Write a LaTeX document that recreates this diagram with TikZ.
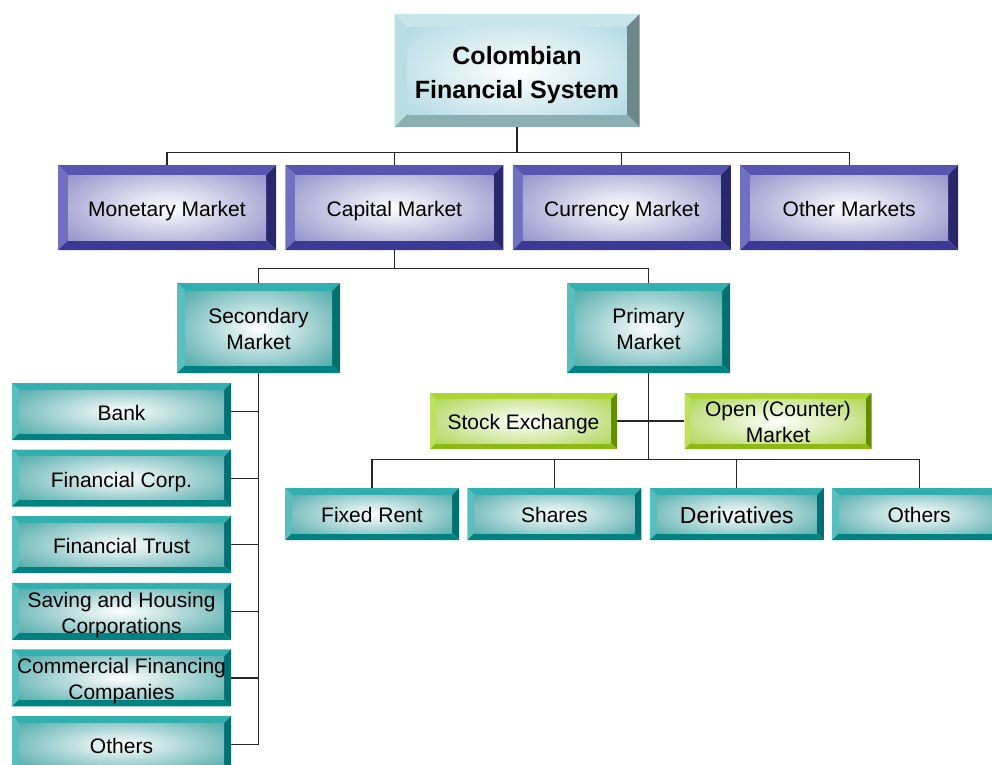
\documentclass[tikz,border=0pt]{standalone}
\usepackage{fontspec}
\setmainfont{Liberation Sans}
\usetikzlibrary{positioning,calc}
\definecolor{ttlL}{RGB}{185,222,225}
\definecolor{ttlT}{RGB}{200,230,234}
\definecolor{ttlR}{RGB}{110,135,138}
\definecolor{ttlB}{RGB}{140,175,178}
\definecolor{ttlF}{RGB}{165,212,222}
\definecolor{purL}{RGB}{112,112,192}
\definecolor{purT}{RGB}{86,86,176}
\definecolor{purR}{RGB}{40,40,110}
\definecolor{purB}{RGB}{58,58,150}
\definecolor{purF}{RGB}{130,130,195}
\definecolor{tealL}{RGB}{90,190,190}
\definecolor{tealT}{RGB}{50,175,175}
\definecolor{tealR}{RGB}{0,112,112}
\definecolor{tealB}{RGB}{0,130,130}
\definecolor{tealF}{RGB}{60,160,160}
\definecolor{grnL}{RGB}{190,225,90}
\definecolor{grnT}{RGB}{170,215,50}
\definecolor{grnR}{RGB}{100,140,0}
\definecolor{grnB}{RGB}{140,185,20}
\definecolor{grnF}{RGB}{165,210,70}
\tikzset{%
bevel/.style n args={6}{draw=none,inner sep=0pt,align=center,
  text height=18.9pt,text depth=1pt,
  path picture={
    \coordinate (bl) at (path picture bounding box.south west);
    \coordinate (tr) at (path picture bounding box.north east);
    \coordinate (tl) at (path picture bounding box.north west);
    \coordinate (br) at (path picture bounding box.south east);
    \fill[#2] (tl) -- (bl) -- ([shift={(#1,#1)}]bl) -- ([shift={(#1,-#1)}]tl) -- cycle;
    \fill[#3] (tl) -- (tr) -- ([shift={(-#1,-#1)}]tr) -- ([shift={(#1,-#1)}]tl) -- cycle;
    \fill[#4] (tr) -- (br) -- ([shift={(-#1,#1)}]br) -- ([shift={(-#1,-#1)}]tr) -- cycle;
    \fill[#5] (bl) -- (br) -- ([shift={(-#1,#1)}]br) -- ([shift={(#1,#1)}]bl) -- cycle;
    \begin{scope}
      \clip ([shift={(#1,#1)}]bl) rectangle ([shift={(-#1,-#1)}]tr);
      \shade[inner color=white,outer color=#6] ($(bl)!-0.2!(tr)$) rectangle ($(tr)!-0.2!(bl)$);
    \end{scope}
  }},
twoline/.style={text height=44.9pt,text depth=1pt},
titlebox/.style={bevel={13pt}{ttlL}{ttlT}{ttlR}{ttlB}{ttlF},minimum width=245pt,minimum height=113pt,
  text height=56.5pt,text depth=1.25pt,font=\bfseries\fontsize{25}{34}\selectfont},
mktbox/.style={bevel={10pt}{purL}{purT}{purR}{purB}{purF},minimum width=218pt,minimum height=85pt,font=\fontsize{21}{26}\selectfont},
subbox/.style={bevel={8pt}{tealL}{tealT}{tealR}{tealB}{tealF},minimum width=163pt,minimum height=90pt,font=\fontsize{21}{26}\selectfont},
listbox/.style={bevel={7pt}{tealL}{tealT}{tealR}{tealB}{tealF},minimum width=219pt,minimum height=57pt,font=\fontsize{21}{26}\selectfont},
rowbox/.style={bevel={7pt}{tealL}{tealT}{tealR}{tealB}{tealF},minimum width=174pt,minimum height=52pt,font=\fontsize{21}{26}\selectfont},
exbox/.style={bevel={6pt}{grnL}{grnT}{grnR}{grnB}{grnF},minimum width=187pt,minimum height=56pt,font=\fontsize{21}{26}\selectfont},
conn/.style={draw=black!85,line width=1.2pt}
}

\begin{document}
\begin{tikzpicture}[x=1pt,y=-1pt]
    \useasboundingbox (0,0) rectangle (992,764);
    \clip (0,0) rectangle (992,764);

    \node[titlebox] (cfs) at (517,70.5) {Colombian\\Financial System};

    \node[mktbox] (mon) at (167,207.5) {Monetary Market};
    \node[mktbox,right=9pt of mon] (cap) {Capital Market};
    \node[mktbox,right=9pt of cap] (cur) {Currency Market};
    \node[mktbox,right=9pt of cur] (oth) {Other Markets};

    \node[subbox,twoline] (sec) at (258.5,328) {Secondary\\Market};
    \node[subbox,twoline] (pri) at (648.5,328) {Primary\\Market};

    \node[listbox] (bank) at (121.5,411.5) {Bank};
    \node[listbox,below=9.2pt of bank] (corp) {Financial Corp.};
    \node[listbox,below=9.2pt of corp] (trust) {Financial Trust};
    \node[listbox,twoline,below=9.2pt of trust] (sav) {Saving and Housing\\Corporations};
    \node[listbox,twoline,below=9.2pt of sav] (com) {Commercial Financing\\Companies};
    \node[listbox,below=9.2pt of com] (lothers) {Others};

    \node[exbox] (stock) at (523.5,421) {Stock Exchange};
    \node[exbox,twoline] (open) at (778,421) {Open (Counter)\\Market};

    \node[rowbox] (fix) at (372,514) {Fixed Rent};
    \node[rowbox,right=8pt of fix] (shr) {Shares};
    \node[rowbox,right=8pt of shr,text height=20.7pt,text depth=1.1pt,
          font=\fontsize{23}{27}\selectfont] (der) {Derivatives};
    \node[rowbox,right=8pt of der] (roth) {Others};

    % tree links
    \foreach \n in {mon,cap,cur,oth}
      \draw[conn] (cfs.south) -- ++(0,25) -| (\n.north);
    \foreach \n in {sec,pri}
      \draw[conn] (cap.south) -- ++(0,18) -| (\n.north);
    \foreach \n in {bank,corp,trust,sav,com,lothers}
      \draw[conn] (sec.south) |- (\n.east);
    \draw[conn] (stock.east) -- (open.west);
    \foreach \n in {fix,shr,der,roth}
      \draw[conn] (pri.south) -- ++(0,86) -| (\n.north);

\end{tikzpicture}
\end{document}
